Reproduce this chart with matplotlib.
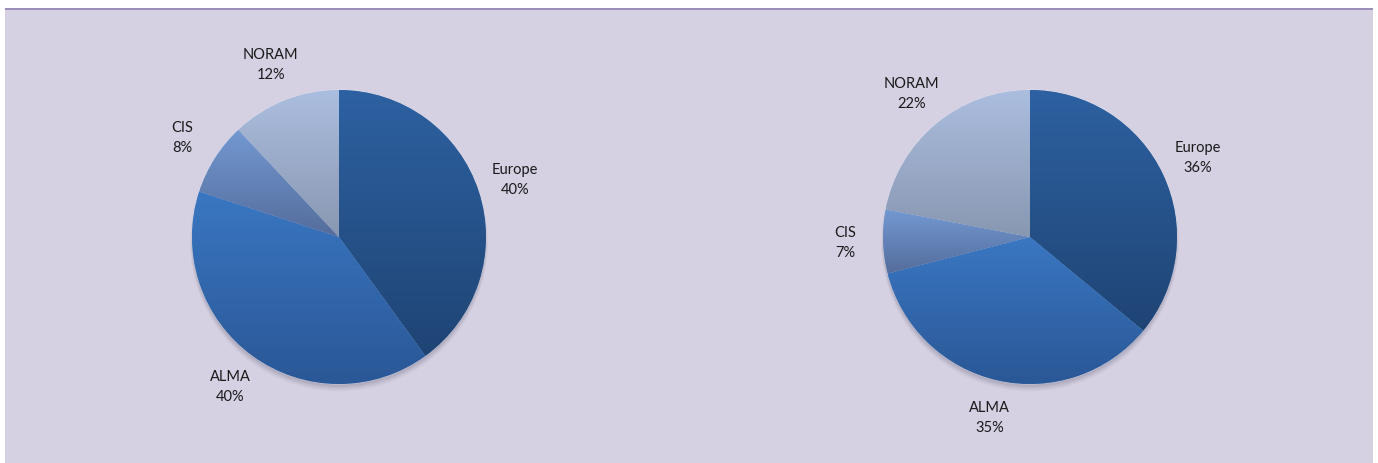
import matplotlib.pyplot as plt
import numpy as np
from matplotlib.colors import LinearSegmentedColormap
from matplotlib.patches import Rectangle, Circle

plt.rcParams['font.family'] = ['Lato', 'DejaVu Sans']

regions = ['Europe', 'ALMA', 'CIS', 'NORAM']
share_left = [40, 40, 8, 12]
share_right = [36, 35, 7, 22]

# gradient per slice: (top colour, bottom colour)
grad_colors = [('#2D61A1', '#1F4474'),
               ('#3A77C2', '#2A5796'),
               ('#7399D2', '#546C9B'),
               ('#ACBEDF', '#8897B1')]

W, H = 1378, 463
fig = plt.figure(figsize=(W / 100, H / 100), dpi=100)
fig.patch.set_facecolor('white')

# panel background + top border
fig.add_artist(Rectangle((5 / W, 0), 1368 / W, (H - 9) / H, transform=fig.transFigure,
                         facecolor='#D5D1E2', edgecolor='none', zorder=0))
fig.add_artist(Rectangle((5 / W, (H - 10) / H), 1368 / W, 2 / H, transform=fig.transFigure,
                         facecolor='#9C90BA', edgecolor='none', zorder=1))

R_PX = 147
L = 1.5
S = 2 * L * R_PX


def draw_pie(cx, cy, values):
    ax = fig.add_axes([(cx - S / 2) / W, (H - cy - S / 2) / H, S / W, S / H])
    ax.set_facecolor('none')
    # soft shadow
    for k, a in enumerate([0.10, 0.08, 0.06]):
        ax.add_patch(Circle((0, -0.02 - 0.008 * k), 1.0 + 0.006 * k, color='#3a3550',
                            alpha=a, lw=0, zorder=0))
    labels = [f'{r}\n{v}%' for r, v in zip(regions, values)]
    wedges, texts = ax.pie(values, labels=labels, startangle=90, counterclock=False,
                           radius=1.0, labeldistance=1.26,
                           colors=[c[0] for c in grad_colors],
                           wedgeprops=dict(edgecolor=(1, 1, 1, 0.35), linewidth=0.6),
                           textprops=dict(fontsize=10.5, color='#1a1a1a'))
    for w, (top, bot) in zip(wedges, grad_colors):
        bb = w.get_path().get_extents()
        cmap = LinearSegmentedColormap.from_list('g', [bot, top])
        grad = np.linspace(0, 1, 256).reshape(-1, 1)
        im = ax.imshow(grad, extent=[bb.x0, bb.x1, bb.y0, bb.y1], origin='lower',
                       cmap=cmap, aspect='auto', zorder=w.get_zorder() + 0.1)
        im.set_clip_path(w)
    for t in texts:
        t.set_ha('center')
        t.set_va('center')
        t.set_linespacing(1.55)
    ax.set_xlim(-L, L)
    ax.set_ylim(-L, L)
    ax.set_aspect('equal')
    ax.axis('off')


draw_pie(339, 237, share_left)
draw_pie(1030, 237, share_right)

fig.savefig('out.png', dpi=100)
